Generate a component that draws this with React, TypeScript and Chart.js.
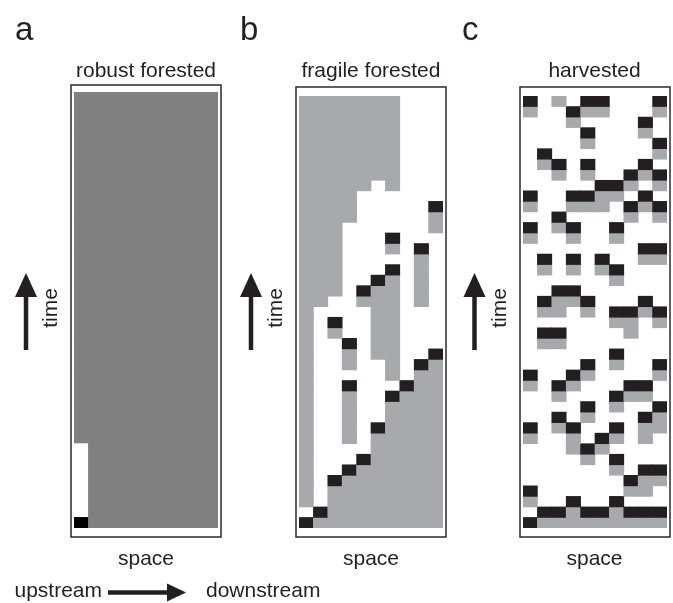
import React, { useEffect, useRef } from "react";
import { Chart, registerables } from "chart.js";

Chart.register(...registerables);

// ---- data ----
const columns = ["1", "2", "3", "4", "5", "6", "7", "8", "9", "10"];

// rows listed from top (latest time) to bottom (earliest time)
// '.' = empty, 'g' = forested/gray, 'k' = black (event)
const gridA: string[] = [
  ...Array(33).fill("gggggggggg"),
  ...Array(7).fill(".ggggggggg"),
  "kggggggggg",
];

const gridB: string[] = [
  "ggggggg...",
  "ggggggg...",
  "ggggggg...",
  "ggggggg...",
  "ggggggg...",
  "ggggggg...",
  "ggggggg...",
  "ggggggg...",
  "ggggg.g...",
  "gggg......",
  "gggg.....k",
  "gggg.....g",
  "ggg......g",
  "ggg...k...",
  "ggg...g.k.",
  "ggg.....g.",
  "ggg...k.g.",
  "ggg..kg.g.",
  "ggg.kgg.g.",
  "gg..ggg.g.",
  "g....gg...",
  "g.k..gg...",
  "g.g..gg...",
  "g..k.gg...",
  "g..g.gg..k",
  "g..g..g.kg",
  "g.....g.gg",
  "g..k...kgg",
  "g..g..kggg",
  "g..g..gggg",
  "g..g..gggg",
  "g..g.kgggg",
  "g..g.ggggg",
  "g....ggggg",
  "g...kggggg",
  "g..kgggggg",
  "g.kggggggg",
  "g.gggggggg",
  "g.gggggggg",
  ".kgggggggg",
  "kggggggggg",
];

const gridC: string[] = [
  "k.g.kk...k",
  "g..kgg...g",
  "...g....k.",
  "....k...g.",
  "....g....k",
  ".k.......g",
  ".gk.k...k.",
  "..g.g..kgk",
  ".....kkg.g",
  "k..kkgg.k.",
  "g..ggg.kgk",
  "..k....g.g",
  "k.gk..k...",
  "g..g..g...",
  "........kk",
  ".k.k.k..gg",
  ".g.g.gk...",
  "......g...",
  "..kk......",
  ".kggk...k.",
  ".gg.g.kkgk",
  "......gg.g",
  ".kk....g..",
  ".gg.......",
  "......k...",
  "....k.g..k",
  "k..kg....g",
  "g.kg...kk.",
  "..g...kgg.",
  "....k.g..k",
  "..k.g...kg",
  "k.gk..k.gg",
  "g..g.kg.g.",
  "...gkg....",
  "....g.k...",
  "......g.kk",
  ".......kgg",
  "k......gg.",
  "g..k..k...",
  ".kkgkkgkkk",
  "kggggggggg",
];

const panelLetters = ["a", "b", "c"];
const panelTitles = ["robust forested", "fragile forested", "harvested"];

const paletteA: Record<string, string> = { g: "#808080", k: "#000000" };
const paletteBC: Record<string, string> = { g: "#A7A9AC", k: "#231F20" };

const FONT = "'Liberation Sans', Arial, Helvetica, sans-serif";
const CELL_BOTTOM = 528;

function buildDatasets(grid: string[], palette: Record<string, string>) {
  const n = grid.length;
  return grid.map((row, i) => {
    const y0 = n - 1 - i;
    return {
      label: "row " + i,
      data: columns.map((_, c) => (row[c] === "." ? null : [y0, y0 + 1])),
      backgroundColor: columns.map((_, c) => palette[row[c]] || "rgba(0,0,0,0)"),
      borderWidth: 0,
      grouped: false,
      barPercentage: 1,
      categoryPercentage: 1,
    };
  });
}

type Frame = { left: number; top: number; bottom: number; cellTop: number };

function Panel({ grid, palette, frame }: { grid: string[]; palette: Record<string, string>; frame: Frame }) {
  const ref = useRef<HTMLCanvasElement | null>(null);
  const { left, top, bottom, cellTop } = frame;
  const cw = 156;
  const ch = bottom - top + 6;
  useEffect(() => {
    if (!ref.current) return;
    const chart = new Chart(ref.current, {
      type: "bar",
      data: { labels: columns, datasets: buildDatasets(grid, palette) as any },
      options: {
        animation: false,
        responsive: false,
        events: [],
        layout: {
          padding: {
            left: 6,
            right: 6,
            top: cellTop - top + 3,
            bottom: bottom - CELL_BOTTOM + 3,
          },
        },
        scales: {
          x: { display: false },
          y: { display: false, min: 0, max: grid.length },
        },
        plugins: { legend: { display: false }, tooltip: { enabled: false } },
      },
      plugins: [
        {
          id: "frameRect",
          afterDraw(c: any) {
            const ctx = c.ctx;
            const a = c.chartArea;
            ctx.save();
            ctx.strokeStyle = "#2b2b2b";
            ctx.lineWidth = 1.5;
            ctx.strokeRect(a.left - 3, a.top - (cellTop - top), a.right - a.left + 6, bottom - top);
            ctx.restore();
          },
        },
      ],
    } as any);
    return () => chart.destroy();
  }, []);
  return (
    <canvas
      ref={ref}
      width={cw}
      height={ch}
      style={{ position: "absolute", left: left - 3, top: top - 3, width: cw, height: ch }}
    />
  );
}

const frames: Frame[] = [
  { left: 71, top: 85, bottom: 537, cellTop: 92 },
  { left: 296, top: 87, bottom: 537, cellTop: 96 },
  { left: 519.5, top: 87, bottom: 537, cellTop: 96 },
];
const grids = [gridA, gridB, gridC];
const palettes = [paletteA, paletteBC, paletteBC];
const letterX = [15, 240, 462];

export default function App() {
  return (
    <div style={{ position: "absolute", left: 0, top: 0, width: 673, height: 603, background: "#fff" }}>
      {frames.map((f, i) => (
        <Panel key={i} grid={grids[i]} palette={palettes[i]} frame={f} />
      ))}
      <svg
        width={673}
        height={603}
        style={{ position: "absolute", left: 0, top: 0, pointerEvents: "none" }}
        fontFamily={FONT}
      >
        {frames.map((f, i) => {
          const cx = f.left + 75;
          const ax = f.left - 45;
          return (
            <g key={i}>
              <text x={letterX[i]} y={40} fontSize={33} fill="#231F20">
                {panelLetters[i]}
              </text>
              <text x={cx} y={77} fontSize={21} textAnchor="middle" fill="#231F20">
                {panelTitles[i]}
              </text>
              <text x={cx} y={565} fontSize={21} textAnchor="middle" fill="#231F20">
                space
              </text>
              <line x1={ax} y1={292} x2={ax} y2={350} stroke="#231F20" strokeWidth={4.5} />
              <polygon points={`${ax - 11},297 ${ax},273 ${ax + 11},297`} fill="#231F20" />
              <text
                x={0}
                y={0}
                fontSize={21}
                textAnchor="middle"
                fill="#231F20"
                transform={`translate(${ax + 31},308) rotate(-90)`}
              >
                time
              </text>
            </g>
          );
        })}
        <text x={14.5} y={597} fontSize={21} fill="#231F20">
          upstream
        </text>
        <line x1={108} y1={592.5} x2={170} y2={592.5} stroke="#231F20" strokeWidth={4.5} />
        <polygon points="167,583.5 186,592.5 167,601.5" fill="#231F20" />
        <text x={206} y={597} fontSize={21} fill="#231F20">
          downstream
        </text>
      </svg>
    </div>
  );
}
